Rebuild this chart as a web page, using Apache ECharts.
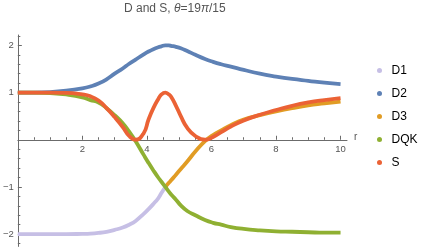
<!DOCTYPE html>
<html>
<head>
<meta charset="utf-8">
<script src="https://cdn.jsdelivr.net/npm/echarts@6/dist/echarts.min.js"></script>
<style>html,body{margin:0;padding:0;background:#fff;}#c{width:424px;height:247px;}</style>
</head>
<body>
<div id="c"></div>
<script>
var xs   = [0, 0.5, 1, 1.5, 2, 2.25, 2.5, 2.75, 3, 3.25, 3.45, 3.65, 3.9, 4.05, 4.2, 4.35, 4.45, 4.57, 4.68, 4.75, 4.9, 5.05, 5.25, 5.5, 5.8, 6.05, 6.3, 6.6, 7, 7.5, 8, 8.5, 9, 9.5, 10];
var d1   = [-2, -2, -2, -2, -1.995, -1.99, -1.975, -1.95, -1.91, -1.86, -1.80, -1.72, -1.57, -1.47, -1.36, -1.24, -1.13, -1.0, null, null, null, null, null, null, null, null, null, null, null, null, null, null, null, null, null];
var d2   = [1.0, 1.0, 1.01, 1.04, 1.09, 1.13, 1.19, 1.28, 1.40, 1.51, 1.61, 1.70, 1.81, 1.87, 1.92, 1.96, 1.98, 2.0, 2.0, 1.99, 1.97, 1.94, 1.88, 1.80, 1.71, 1.65, 1.60, 1.55, 1.48, 1.40, 1.34, 1.29, 1.25, 1.21, 1.18];
var d3   = [null, null, null, null, null, null, null, null, null, null, null, null, null, null, null, null, null, -1.0, -0.91, -0.86, -0.74, -0.62, -0.46, -0.25, -0.03, 0.10, 0.20, 0.31, 0.43, 0.52, 0.60, 0.67, 0.73, 0.77, 0.81];
var dqk  = [1, 1, 0.99, 0.96, 0.90, 0.84, 0.79, 0.67, 0.52, 0.35, 0.17, -0.03, -0.32, -0.49, -0.65, -0.80, -0.89, -1.0, -1.10, -1.16, -1.27, -1.39, -1.51, -1.60, -1.70, -1.76, -1.80, -1.85, -1.89, -1.92, -1.94, -1.95, -1.96, -1.97, -1.97];
var s    = [1, 1, 1, 0.995, 0.96, 0.92, 0.83, 0.67, 0.48, 0.27, 0.08, 0.0, 0.14, 0.43, 0.67, 0.86, 0.96, 1.0, 0.96, 0.91, 0.72, 0.50, 0.25, 0.08, 0.0, 0.06, 0.16, 0.28, 0.41, 0.53, 0.63, 0.72, 0.79, 0.84, 0.88];

var names = ['D1', 'D2', 'D3', 'DQK', 'S'];
var colors = ['#c6bfe5', '#5e81b5', '#e19c24', '#8fb032', '#eb6235'];
var values = [d1, d2, d3, dqk, s];

var xMajor = [2, 4, 6, 8, 10];
var xMinor = [0.5, 1, 1.5, 2.5, 3, 3.5, 4.5, 5, 5.5, 6.5, 7, 7.5, 8.5, 9, 9.5];
var yMajor = [-2, -1, 1, 2];
var yMinor = [-2.2, -1.8, -1.6, -1.4, -1.2, -0.8, -0.6, -0.4, -0.2, 0.2, 0.4, 0.6, 0.8, 1.2, 1.4, 1.6, 1.8, 2.2];

function pairs(arr) {
  var out = [];
  for (var i = 0; i < xs.length; i++) {
    if (arr[i] !== null) out.push([xs[i], arr[i]]);
  }
  return out;
}

var axisColor = '#6b6b6b';
var labelColor = '#555';
var XMIN = 0, XMAX = 10.2, YMIN = -2.26, YMAX = 2.22;
var GTOP = 35, GBOTTOM = 0.6, H = 247;
var gh = H - GTOP - GBOTTOM;
var zeroOffset = -(gh * (0 - YMIN) / (YMAX - YMIN));

var series = names.map(function (n, i) {
  return {
    name: n, type: 'line', data: pairs(values[i]),
    xAxisIndex: 0, yAxisIndex: 0,
    smooth: 0.5, showSymbol: false, symbol: 'circle',
    lineStyle: { color: colors[i], width: 3.8 },
    itemStyle: { color: colors[i] },
    clip: false, animation: false
  };
});

var font = 'Liberation Sans, Arial, sans-serif';
var chart = echarts.init(document.getElementById('c'), null, { renderer: 'canvas' });
chart.setOption({
  animation: false,
  backgroundColor: '#fff',
  grid: { left: 15, right: 77, top: GTOP, bottom: GBOTTOM, containLabel: false },
  graphic: [{
    type: 'text', left: 124, top: 3,
    style: {
      text: '{n|D and S, }{i|θ}{n|=19}{i|π}{n|/15}',
      rich: {
        n: { fontSize: 12, fontFamily: font, fill: '#555' },
        i: { fontSize: 12, fontFamily: font, fontStyle: 'italic', fill: '#555' }
      }
    }
  }, {
    type: 'text', left: 354, top: 132,
    style: { text: 'r', fontSize: 10, fontFamily: font, fill: labelColor }
  }],
  legend: {
    data: names.map(function (n, i) { return { name: n, itemStyle: { color: colors[i] } }; }),
    orient: 'vertical', left: 372, top: 58.5,
    icon: 'circle', itemWidth: 14, itemHeight: 5, itemGap: 9,
    textStyle: { fontSize: 12, color: '#000', lineHeight: 14, fontFamily: font }
  },
  xAxis: [{
    type: 'value', min: XMIN, max: XMAX, position: 'bottom', offset: zeroOffset,
    axisLine: { show: true, onZero: false, lineStyle: { color: axisColor, width: 1 } },
    axisTick: { show: true, inside: true, length: 4, customValues: xMajor, lineStyle: { color: axisColor } },
    axisLabel: { show: true, customValues: xMajor, margin: 5, color: labelColor, fontSize: 9.5, fontFamily: font },
    splitLine: { show: false }
  }, {
    type: 'value', min: XMIN, max: XMAX, position: 'bottom', offset: zeroOffset,
    axisLine: { show: false, onZero: false },
    axisTick: { show: true, inside: true, length: 2.5, customValues: xMinor, lineStyle: { color: axisColor } },
    axisLabel: { show: false },
    splitLine: { show: false }
  }],
  yAxis: [{
    type: 'value', min: YMIN, max: YMAX, position: 'left',
    axisLine: { show: true, onZero: false, lineStyle: { color: axisColor, width: 1 } },
    axisTick: { show: true, inside: true, length: 4, customValues: yMajor, lineStyle: { color: axisColor } },
    axisLabel: { show: true, customValues: yMajor, margin: 4, color: labelColor, fontSize: 9.5, fontFamily: font, formatter: function (v) { return v < 0 ? '\u2212' + Math.abs(v) : String(v); } },
    splitLine: { show: false }
  }, {
    type: 'value', min: YMIN, max: YMAX, position: 'left',
    axisLine: { show: false, onZero: false },
    axisTick: { show: true, inside: true, length: 2.5, customValues: yMinor, lineStyle: { color: axisColor } },
    axisLabel: { show: false },
    splitLine: { show: false }
  }],
  series: series
});
</script>
</body>
</html>
